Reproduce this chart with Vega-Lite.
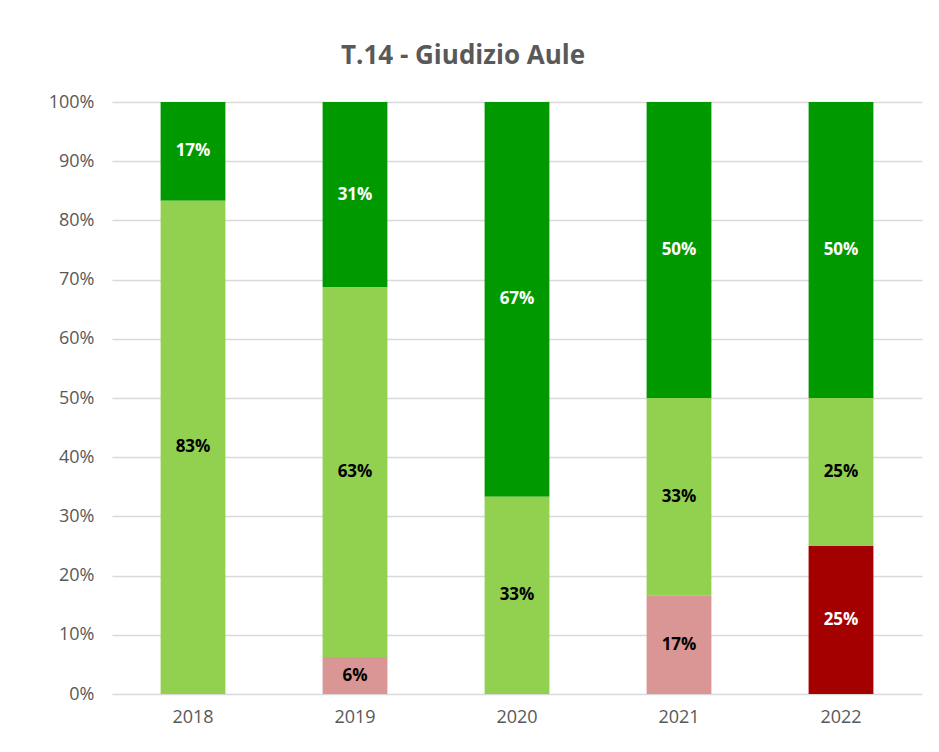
{
  "$schema": "https://vega.github.io/schema/vega-lite/v6.json",
  "width": 810,
  "height": 592,
  "autosize": {"type": "none"},
  "padding": {"left": 112, "top": 102, "right": 17, "bottom": 58},
  "background": "white",
  "title": {
    "text": "T.14 - Giudizio Aule",
    "font": "Open Sans",
    "fontSize": 26,
    "fontWeight": "bold",
    "color": "#595959",
    "anchor": "middle",
    "dx": -54,
    "offset": 24
  },
  "data": {
    "values": [
      {"anno": "2018", "giudizio": "Decisamente sì", "ord": 4, "quota": 0.1667},
      {"anno": "2018", "giudizio": "Più sì che no", "ord": 3, "quota": 0.8333},
      {"anno": "2019", "giudizio": "Decisamente sì", "ord": 4, "quota": 0.3125},
      {"anno": "2019", "giudizio": "Più sì che no", "ord": 3, "quota": 0.625},
      {"anno": "2019", "giudizio": "Più no che sì", "ord": 2, "quota": 0.0625},
      {"anno": "2020", "giudizio": "Decisamente sì", "ord": 4, "quota": 0.6667},
      {"anno": "2020", "giudizio": "Più sì che no", "ord": 3, "quota": 0.3333},
      {"anno": "2021", "giudizio": "Decisamente sì", "ord": 4, "quota": 0.5},
      {"anno": "2021", "giudizio": "Più sì che no", "ord": 3, "quota": 0.3333},
      {"anno": "2021", "giudizio": "Più no che sì", "ord": 2, "quota": 0.1667},
      {"anno": "2022", "giudizio": "Decisamente sì", "ord": 4, "quota": 0.5},
      {"anno": "2022", "giudizio": "Più sì che no", "ord": 3, "quota": 0.25},
      {"anno": "2022", "giudizio": "Decisamente no", "ord": 1, "quota": 0.25}
    ]
  },
  "encoding": {
    "x": {
      "field": "anno",
      "type": "nominal",
      "title": null,
      "scale": {"paddingInner": 0.6, "paddingOuter": 0.3},
      "axis": {
        "labelAngle": 0,
        "labelFont": "Open Sans",
        "labelFontSize": 18,
        "labelColor": "#595959",
        "labelPadding": 14,
        "ticks": false,
        "domain": false
      }
    }
  },
  "layer": [
    {
      "mark": {"type": "bar"},
      "encoding": {
        "y": {
          "field": "quota",
          "type": "quantitative",
          "stack": "zero",
          "title": null,
          "scale": {"domain": [0, 1]},
          "axis": {
            "values": [0, 0.1, 0.2, 0.3, 0.4, 0.5, 0.6, 0.7, 0.8, 0.9, 1],
            "format": ".0%",
            "labelFont": "Open Sans",
            "labelFontSize": 18,
            "labelColor": "#595959",
            "labelPadding": 18,
            "ticks": false,
            "domain": false,
            "grid": true,
            "gridColor": "#d9d9d9",
            "gridWidth": 1.5
          }
        },
        "color": {
          "field": "giudizio",
          "type": "nominal",
          "scale": {
            "domain": ["Decisamente no", "Più no che sì", "Più sì che no", "Decisamente sì"],
            "range": ["#a50000", "#da9694", "#92d050", "#009900"]
          },
          "legend": null
        },
        "order": {"field": "ord", "type": "quantitative"}
      }
    },
    {
      "transform": [
        {"stack": "quota", "groupby": ["anno"], "sort": [{"field": "ord", "order": "ascending"}], "as": ["y0", "y1"]},
        {"calculate": "(datum.y0 + datum.y1) / 2", "as": "mid"}
      ],
      "mark": {"type": "text", "font": "Open Sans", "fontSize": 17, "fontWeight": "bold", "baseline": "middle"},
      "encoding": {
        "y": {"field": "mid", "type": "quantitative"},
        "text": {"field": "quota", "type": "quantitative", "format": ".0%"},
        "color": {
          "condition": {"test": "datum.giudizio == 'Decisamente sì' || datum.giudizio == 'Decisamente no'", "value": "white"},
          "value": "black"
        }
      }
    }
  ],
  "config": {
    "view": {"stroke": null}
  }
}
